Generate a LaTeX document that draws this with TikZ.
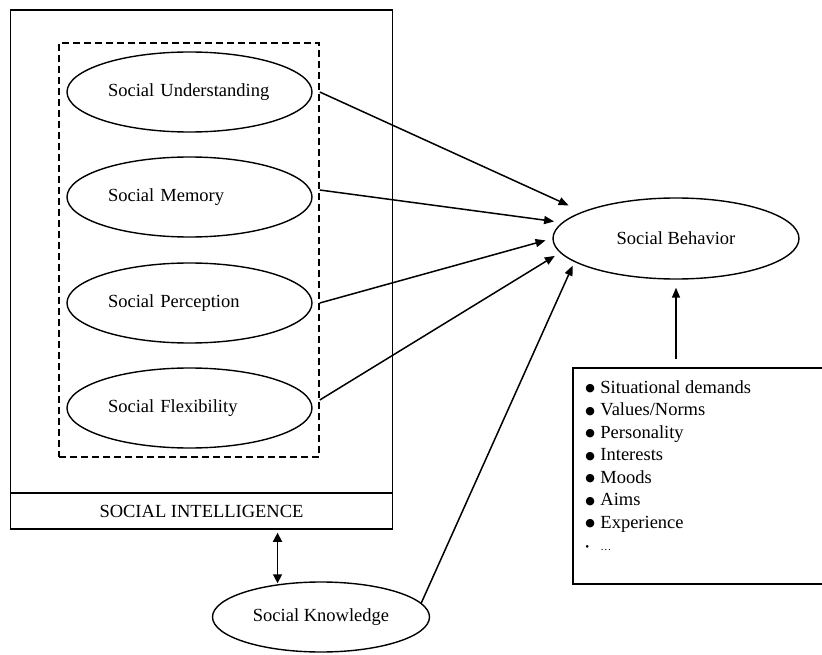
\documentclass[tikz,border=0pt]{standalone}
\usepackage{fontspec}
\setmainfont{Liberation Serif}
\newfontfamily\dotfont{DejaVu Sans}
\usetikzlibrary{calc}
\usetikzlibrary{arrows.meta}
\usetikzlibrary{shapes.geometric}

\newcommand{\itm}{\makebox[15pt][l]{\raisebox{1.5pt}{\dotfont\fontsize{11}{12}\selectfont ●}}}

\tikzset{
    every node/.style={font=\fontsize{18.5}{22.5}\selectfont},
    box/.style={draw, line width=1.5pt, inner sep=0pt},
    oval/.style={draw, ellipse, line width=1.4pt, inner sep=0pt, minimum width=245pt, minimum height=80pt},
    skill/.style={oval, text width=163pt, align=left},
    arr/.style={line width=1.5pt, -{Triangle[length=10pt, width=8pt]}},
    darr/.style={line width=1.5pt, {Triangle[length=9pt, width=9pt]}-{Triangle[length=9pt, width=9pt]}},
}

\begin{document}
\begin{tikzpicture}[x=1pt, y=-1pt]
            \useasboundingbox (0, 0) rectangle (822, 655);
            \node[box, minimum width=382pt, minimum height=519pt] (OUTER) at (201.5, 269.5) {};
            \node[box, minimum width=382pt, minimum height=36pt] (BAND) at (201.5, 511) {SOCIAL INTELLIGENCE};
            \node[box, dash pattern=on 7pt off 4pt, minimum width=260pt, minimum height=414pt] (DASH) at (189, 250) {};
            \node[skill] (SU) at (189.5, 92) {Social Understanding};
            \node[skill] (SM) at (189.5, 197) {Social Memory};
            \node[skill] (SP) at (189.5, 303) {Social Perception};
            \node[skill] (SF) at (189.5, 408) {Social Flexibility};
            \node[oval, minimum width=246pt, minimum height=81pt] (SB) at (676, 238.5) {Social Behavior};
            \node[oval, minimum width=217pt, minimum height=70pt] (SK) at (321, 617) {Social Knowledge};
            \node[box, minimum width=253pt, minimum height=216pt] (LIST) at (699.5, 476) {};
            \node[anchor=north west, align=left, inner sep=0pt] (ITEMS) at ($(LIST.north west) + (13, 13)$) {%
                \itm Situational demands\\
                \itm Values/Norms\\
                \itm Personality\\
                \itm Interests\\
                \itm Moods\\
                \itm Aims\\
                \itm Experience\\
                {\fontsize{11}{22.5}\selectfont\makebox[15pt][l]{\textbullet}\ldots}};
            \draw[arr, shorten >=15pt] (DASH.east |- SU.east) -- (SB.164);
            \draw[arr, shorten >=8pt] ($(DASH.east |- SM.east) + (0, -7)$) -- (SB.172);
            \draw[arr, shorten >=7pt] (DASH.east |- SP.east) -- (SB.west);
            \draw[arr, shorten >=6pt] ($(DASH.east |- SF.east) + (0, -8)$) -- (SB.187);
            \draw[arr, shorten >=4pt] (SK.8) -- (SB.193);
            \draw[arr, shorten <=8pt, shorten >=8pt] (SB.south |- LIST.north) -- (SB.south);
            \draw[darr, shorten <=3pt, shorten >=1pt] (SK.143 |- BAND.south) -- (SK.143);
        \end{tikzpicture}
\end{document}
